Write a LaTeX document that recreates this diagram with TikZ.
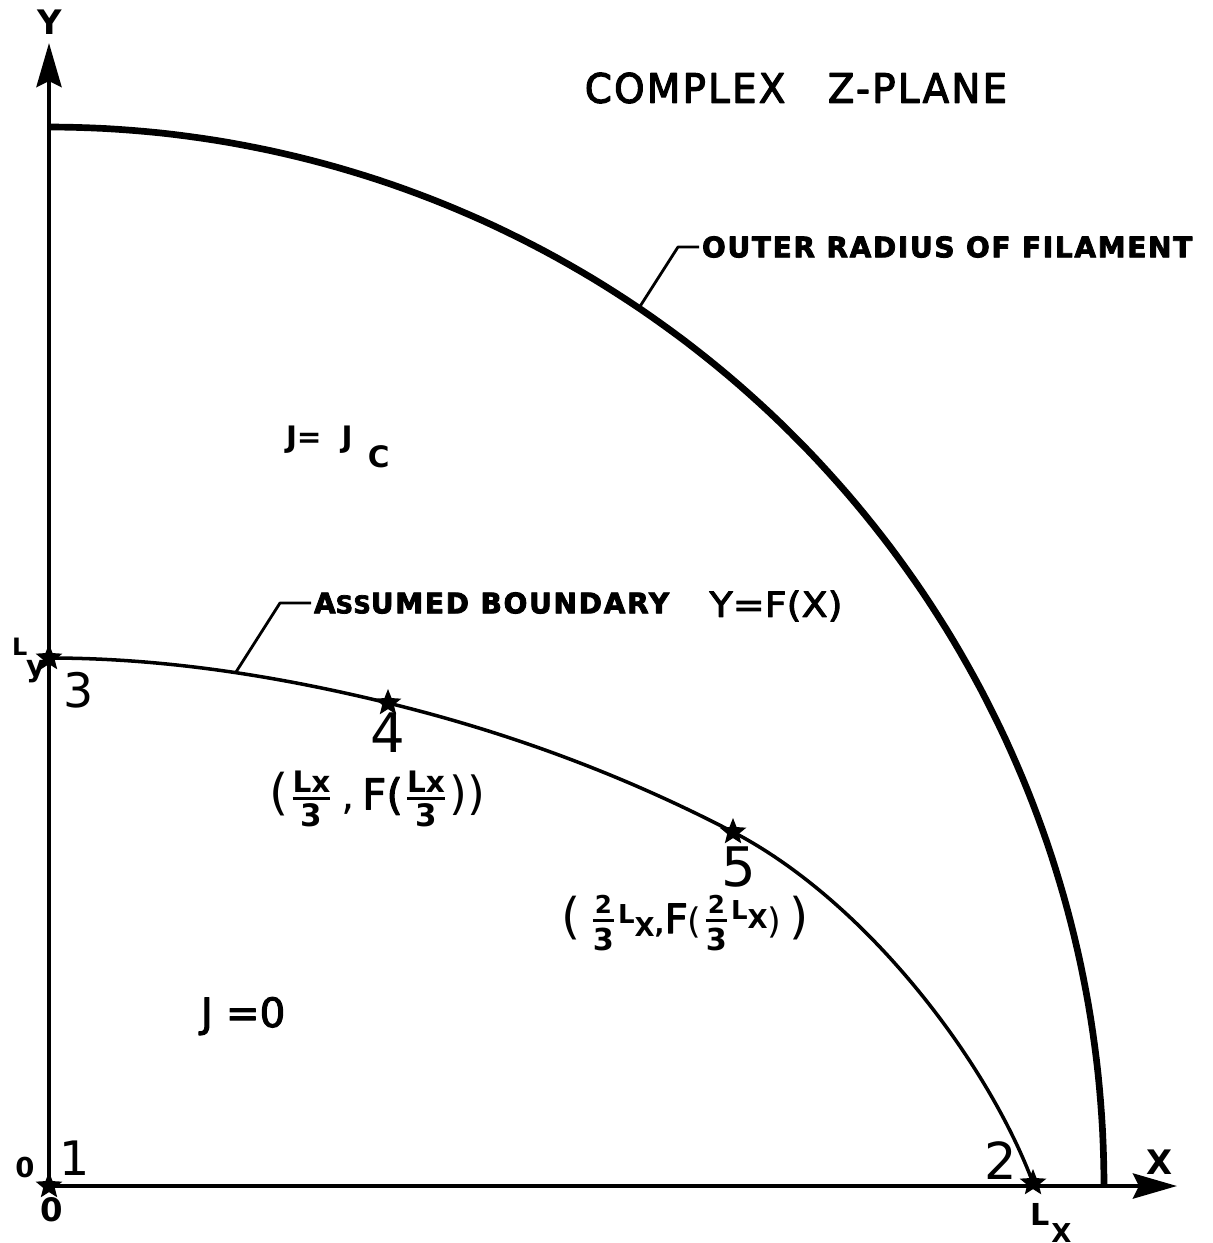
\documentclass[tikz,border=0pt]{standalone}
\usepackage{fontspec}
\setmainfont{DejaVu Sans}
\newfontfamily\spaced[LetterSpace=6,FakeBold=3]{DejaVu Sans}
\newfontfamily\medium[FakeBold=2.5]{DejaVu Sans}
\usepackage{amsmath}
\usepackage{graphicx}
\usetikzlibrary{arrows.meta,shapes.geometric}
\newcommand\fsz[1]{\fontsize{#1}{#1}\selectfont}
\begin{document}
\begin{tikzpicture}[x=0.01cm, y=-0.01cm, line join=round,
  axisline/.style={line width=1.3pt},
  outercurve/.style={line width=1.9pt},
  innercurve/.style={line width=1.0pt},
  leader/.style={line width=0.8pt},
  axtip/.style={-{Stealth[length=0.44cm, width=0.25cm, inset=0.06cm]}},
  starmark/.style={star, star points=5, star point ratio=2.3, fill=black, draw=none, minimum size=0.28cm, inner sep=0pt},
  lbl/.style={inner sep=0pt, outer sep=0pt}]
\useasboundingbox (0,0) rectangle (1212,1243);

% axes
\coordinate (O) at (49,1186);
\coordinate (ybot) at (49,1190);
\coordinate (ytip) at (49,43);
\coordinate (xtip) at (1177,1186);
\draw[axisline, axtip] (ybot) -- (ytip);
\draw[axisline, axtip] (O) -- (xtip);
\node[lbl] (ylbl) at (50,22) {\fsz{9.6}\bfseries Y};
\node[lbl] (xlbl) at (1159,1162) {\fsz{9.6}\bfseries X};

% outer radius of filament
\draw[outercurve] plot[domain=0:90, samples=120] ({49+1055*cos(\x)}, {1186-1059*sin(\x)});
\coordinate (oA) at ({49+1055*cos(56)}, {1186-1059*sin(56)});

% assumed boundary y = f(x)
\coordinate (p3) at (49,658);
\coordinate (p4) at (388,703);
\coordinate (p5) at (733,832);
\coordinate (p2) at (1033,1183);
\coordinate (iA) at (236,672);
\draw[innercurve] (p3) .. controls (162,658) and (275,675.4) .. (p4)
                       .. controls (503,731.1) and (618,772.2) .. (p5)
                       .. controls (866,901.2) and (987.6,1061.2) .. (p2);

% stars
\node[starmark] (s1) at (O) {};
\node[starmark] (s2) at (p2) {};
\node[starmark] (s3) at (p3) {};
\node[starmark] (s4) at (p4) {};
\node[starmark] (s5) at (p5) {};

% title
\node[lbl] (title) at (796,88) {\resizebox{4.22cm}{0.30cm}{\spaced COMPLEX\hspace{1.1em}Z-PLANE}};

% outer radius label
\node[lbl, anchor=west] (outerlbl) at (702,247) {\resizebox{4.90cm}{0.21cm}{\spaced\bfseries OUTER RADIUS OF FILAMENT}};
\coordinate (ob) at (678,247);
\draw[leader, shorten >=0.03cm] (oA) -- (ob) -- (outerlbl.west);

% assumed boundary label
\node[lbl, anchor=west] (asblbl) at (314,603) {\resizebox{3.55cm}{0.21cm}{\spaced\bfseries A\scalebox{0.86}{SS}UMED BOUNDARY}};
\node[lbl] (yfx) at (776,606) {\resizebox*{1.33cm}{0.31cm}{\medium Y=F(X)}};
\coordinate (ab) at (280,603);
\draw[leader, shorten >=0.03cm] (iA) -- (ab) -- (asblbl.west);

% region labels
\node[lbl, anchor=base west] (jc) at (286,447) {\fsz{8.4}\bfseries J=\hspace{0.2cm}J\hspace{0.15cm}\raisebox{-0.2cm}{C}};
\node[lbl, anchor=base west] (j0) at (201,1027) {\fsz{11.5}\medium J =0};

% point numbers
\node[lbl] (n1) at (75,1158) {\fsz{13.5}1};
\node[lbl] (n2) at (1001,1161) {\fsz{14.5}2};
\node[lbl] (n3) at (79,690) {\fsz{13.5}3};
\node[lbl] (n4) at (388,733) {\fsz{15.5}4};
\node[lbl] (n5) at (739,867) {\fsz{15.5}5};

% origin and axis values
\node[lbl] (z0a) at (25,1167) {\fsz{7.8}\bfseries 0};
\node[lbl] (z0b) at (52,1210) {\fsz{9.2}\bfseries 0};
\node[lbl, anchor=base west] (lylbl) at (12,655) {\fsz{6.8}\bfseries L\kern-0.01cm\raisebox{-0.21cm}{\fsz{8.4}y}};
\node[lbl, anchor=base west] (lxlbl) at (1030,1225) {\fsz{8.6}\bfseries L\kern0.02cm\raisebox{-0.17cm}{\fsz{7.4}X}};

% coordinates of points 4 and 5
\node[lbl] (c4) at (377,799) {\fsz{12}$\mbox{\fsz{14}(}\genfrac{}{}{0.9pt}{}{\mbox{\fsz{8.4}\bfseries Lx}}{\mbox{\fsz{8.8}\bfseries 3}}\mbox{\,,\,\medium F\fsz{12}(}\genfrac{}{}{0.9pt}{}{\mbox{\fsz{8.4}\bfseries Lx}}{\mbox{\fsz{8.8}\bfseries 3}}\mbox{\fsz{13}))}$};
\node[lbl] (c5) at (685,923) {\fsz{14}$\mbox{(\,}\genfrac{}{}{0.9pt}{}{\mbox{\fsz{7}\bfseries 2}}{\mbox{\fsz{8.6}\bfseries 3}}\mbox{\fsz{7.4}\bfseries \raisebox{0.10cm}{L}\raisebox{-0.03cm}{X},}\mbox{\fsz{11.5}\medium F}\mbox{\fsz{10}(}\genfrac{}{}{0.9pt}{}{\mbox{\fsz{7}\bfseries 2}}{\mbox{\fsz{8.6}\bfseries 3}}\mbox{\fsz{7.4}\bfseries \raisebox{0.14cm}{L}\raisebox{0.05cm}{X}}\mbox{\fsz{10})}\mbox{\,)}$};
\end{tikzpicture}
\end{document}
